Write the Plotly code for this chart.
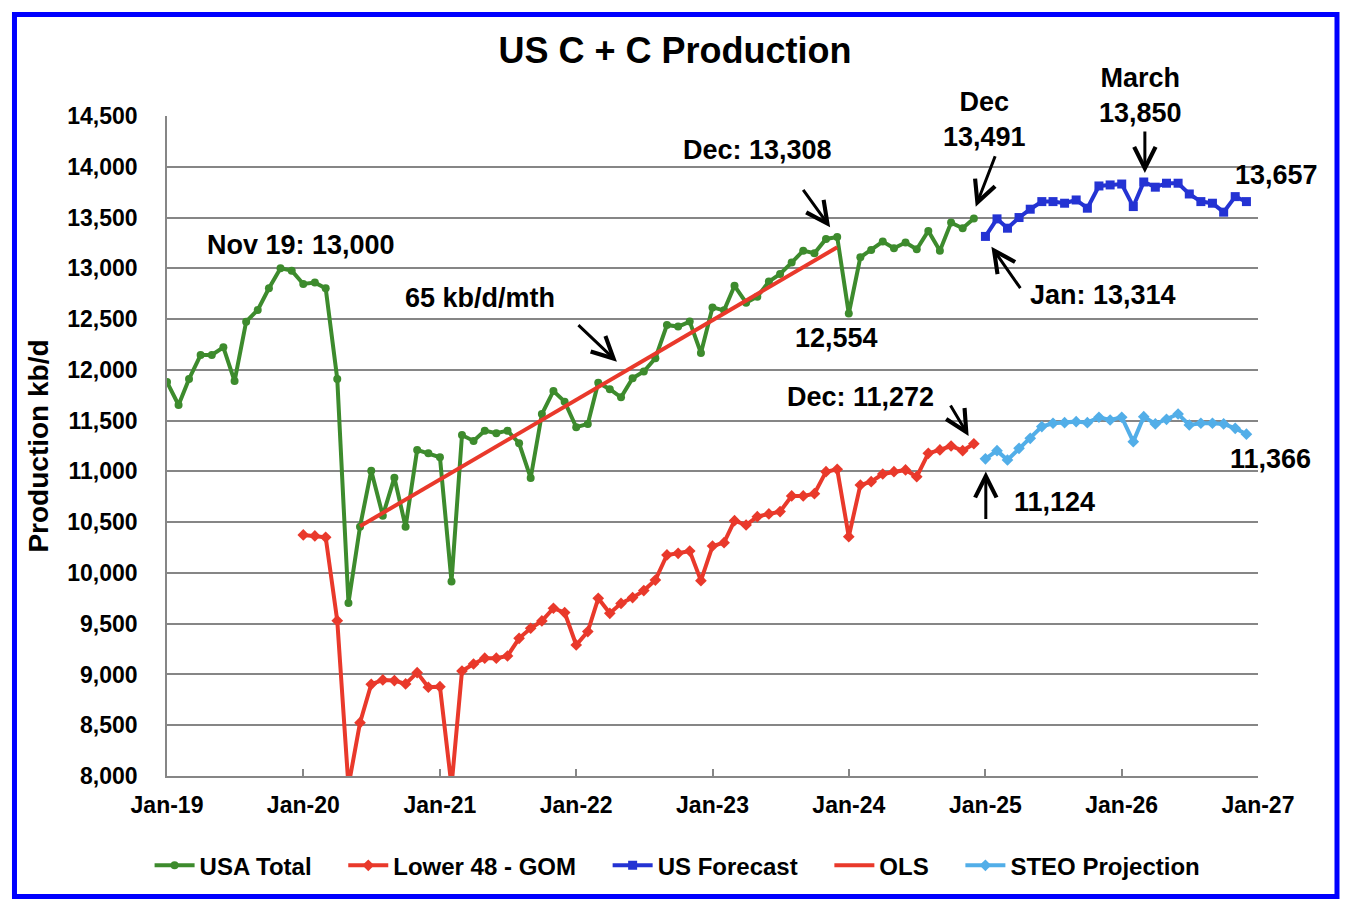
import pandas as pd
import plotly.graph_objects as go

# Monthly values, kb/d
total_dates = pd.date_range("2019-01-01", "2024-12-01", freq="MS")
usa_total = [
    11880, 11654, 11910, 12146, 12146, 12222, 11890, 12474, 12590, 12803, 13000, 12977,
    12846, 12859, 12803, 11910, 9704, 10455, 11007, 10564, 10938, 10455, 11211, 11179,
    11139, 9915, 11358, 11300, 11401, 11375, 11401, 11277, 10935, 11565, 11792, 11687,
    11435, 11467, 11874, 11809, 11730, 11917, 11983, 12114, 12442, 12426, 12475, 12166,
    12615, 12586, 12828, 12662, 12721, 12869, 12944, 13056, 13174, 13148, 13289, 13308,
    12554, 13109, 13181, 13263, 13198, 13254, 13188, 13368, 13174, 13450, 13395, 13491,
]

l48_dates = pd.date_range("2020-01-01", "2024-12-01", freq="MS")
lower48_gom = [
    10374, 10364, 10351, 9530, 7900, 8525, 8903, 8946, 8940, 8907, 9018, 8874,
    8880, 7900, 9034, 9103, 9160, 9160, 9182, 9356, 9455, 9527, 9652, 9609,
    9290, 9422, 9750, 9602, 9700, 9757, 9826, 9930, 10177, 10193, 10216, 9924,
    10265, 10298, 10515, 10472, 10554, 10581, 10604, 10758, 10758, 10780, 10997, 11020,
    10357, 10866, 10899, 10974, 10997, 11014, 10948, 11178, 11211, 11250, 11204, 11272,
]

fc_dates = pd.date_range("2025-01-01", "2026-12-01", freq="MS")
us_forecast = [
    13314, 13487, 13395, 13500, 13582, 13657, 13657, 13641, 13673, 13592, 13811, 13821,
    13830, 13608, 13850, 13799, 13838, 13838, 13732, 13657, 13641, 13553, 13706, 13657,
]
steo = [
    11124, 11204, 11112, 11227, 11326, 11441, 11474, 11480, 11490, 11480, 11533, 11506,
    11533, 11293, 11539, 11467, 11513, 11565, 11457, 11474, 11474, 11467, 11424, 11366,
]

# OLS trend line end points
ols_dates = ["2020-06-01", "2023-12-01"]
ols_values = [10460, 13207]

year_ticks = pd.date_range("2019-01-01", "2027-01-01", freq="YS")

FONT = "Liberation Sans, Arial, sans-serif"
GREEN = "#3D8B2D"
RED = "#E9392B"
BLUE = "#2433D3"
LIGHT_BLUE = "#52AEE8"
GRID = "#868686"
PAD = "\u00a0" * 4  # extra room between legend entries

fig = go.Figure()
fig.add_trace(go.Scatter(
    x=total_dates, y=usa_total, name="USA Total" + PAD, mode="lines+markers",
    line=dict(color=GREEN, width=4), marker=dict(symbol="circle", size=8, color=GREEN),
))
fig.add_trace(go.Scatter(
    x=l48_dates, y=lower48_gom, name="Lower 48 - GOM" + PAD, mode="lines+markers",
    line=dict(color=RED, width=4), marker=dict(symbol="diamond", size=9, color=RED),
))
fig.add_trace(go.Scatter(
    x=fc_dates, y=us_forecast, name="US Forecast" + PAD, mode="lines+markers",
    line=dict(color=BLUE, width=4), marker=dict(symbol="square", size=9, color=BLUE),
))
fig.add_trace(go.Scatter(
    x=ols_dates, y=ols_values, name="OLS" + PAD, mode="lines",
    line=dict(color=RED, width=4),
))
fig.add_trace(go.Scatter(
    x=fc_dates, y=steo, name="STEO Projection", mode="lines+markers",
    line=dict(color=LIGHT_BLUE, width=4), marker=dict(symbol="diamond", size=9, color=LIGHT_BLUE),
))

label_font = dict(family=FONT, size=27, color="black", weight="bold")

# Text labels inside the axis range (data coordinates)
labels = [
    ("2019-12-26", 13230, "Nov 19: 13,000"),
    ("2021-04-18", 12708, "65 kb/d/mth"),
    ("2023-05-01", 14165, "Dec: 13,308"),
    ("2024-12-30", 14466, "Dec<br>13,491"),
    ("2025-11-11", 12737, "Jan: 13,314"),
    ("2023-11-29", 12314, "12,554"),
    ("2024-02-02", 11733, "Dec: 11,272"),
    ("2025-07-05", 10699, "11,124"),
]
for x, y, text in labels:
    fig.add_annotation(x=x, y=y, text=text, showarrow=False, font=label_font)

# Labels that sit outside the axes (paper coordinates)
outside_labels = [
    (0.8925, 1.0312, "March<br>13,850"),
    (1.0171, 0.9106, "13,657"),
    (1.0116, 0.4809, "11,366"),
]
for x, y, text in outside_labels:
    fig.add_annotation(x=x, y=y, xref="paper", yref="paper", text=text,
                       xanchor="center", yanchor="middle",
                       showarrow=False, font=label_font)

# Arrows (head position, tail offset in px)
arrows = [
    ("2022-04-20", 12080, -40, -38),
    ("2023-11-12", 13404, -28, -39),
    ("2024-12-06", 13607, 20, -52),
    ("2026-03-04", 13939, 0, -43),
    ("2025-01-17", 13213, 30, 43),
    ("2024-11-17", 11349, -19, -32),
    ("2025-01-02", 10999, 0, 49),
]
for x, y, ax, ay in arrows:
    fig.add_annotation(
        x=x, y=y, ax=ax, ay=ay, text="", showarrow=True,
        arrowhead=5, arrowsize=1.4, arrowwidth=3, arrowcolor="black",
    )

# Blue frame around the whole chart
fig.add_shape(
    type="rect", xref="paper", yref="paper",
    x0=-0.1398, x1=1.0724, y0=-0.1826, y1=1.1538,
    line=dict(color="#0000FF", width=5),
)

fig.update_layout(
    width=1344, height=906,
    margin=dict(l=159, r=94, t=108, b=138),
    paper_bgcolor="white", plot_bgcolor="white",
    font=dict(family=FONT, color="black", weight="bold"),
    title=dict(
        text="US C + C Production", x=0.4963, xanchor="center",
        y=0.9536, yanchor="middle",
        font=dict(family=FONT, size=36, weight="bold"),
    ),
    legend=dict(
        orientation="h", x=0.468, xanchor="center", y=-0.136, yanchor="middle",
        font=dict(family=FONT, size=24, weight="bold"), itemwidth=40,
        traceorder="normal",
    ),
    showlegend=True,
)
fig.update_xaxes(
    type="date", range=["2019-01-01", "2027-01-01"],
    tickvals=year_ticks, tickformat="%b-%y",
    showgrid=False, showline=True, linecolor=GRID, linewidth=1.5,
    ticks="inside", ticklen=7, tickcolor=GRID, tickwidth=1.5,
    tickfont=dict(family=FONT, size=23, weight="bold"),
    ticklabelstandoff=8,
)
fig.update_yaxes(
    range=[8000, 14500], dtick=500, tickformat=",",
    showgrid=True, gridcolor=GRID, gridwidth=1.5,
    showline=True, linecolor=GRID, linewidth=1.5,
    tickfont=dict(family=FONT, size=23, weight="bold"),
    ticklabelstandoff=23,
    title=dict(text="Production kb/d", font=dict(family=FONT, size=28, weight="bold"), standoff=10),
)

fig.write_html("out.html")
